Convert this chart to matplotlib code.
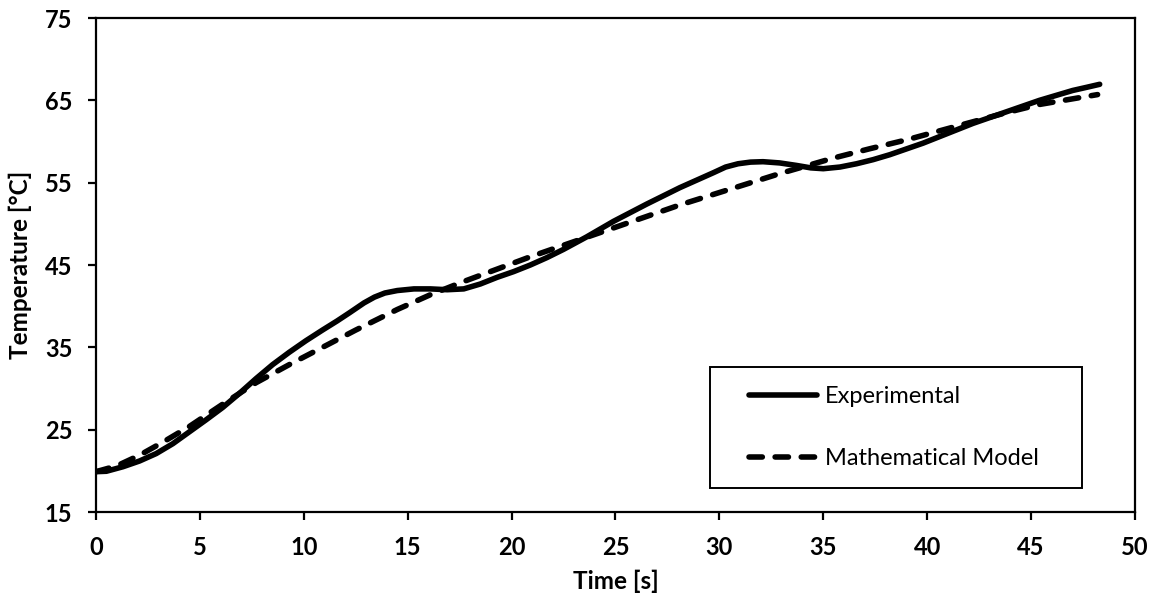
import numpy as np
import matplotlib
matplotlib.use('Agg')
import matplotlib.pyplot as plt
from matplotlib.patches import Rectangle

plt.rcParams['font.family'] = ['Lato', 'DejaVu Sans']

# Experimental curve
t_exp = [0, 0.5, 1.3, 2.1, 2.9, 3.7, 4.5, 5.3, 6.1, 6.9, 7.7, 8.5, 9.3, 10.1, 10.9,
         11.6, 12.2, 12.9, 13.4, 13.9, 14.5, 15.3, 16.1, 16.9, 17.7, 18.5, 19.3,
         20.1, 20.9, 21.7, 22.5, 23.6, 24.9, 26.5, 28.1, 29.7, 30.3, 30.9, 31.5,
         32.1, 32.9, 33.7, 34.4, 35.0, 35.8, 36.6, 37.4, 38.2, 39.0, 39.8, 40.6,
         41.4, 42.2, 43.0, 43.8, 44.6, 45.4, 46.2, 47.0, 47.7, 48.3]
T_exp = [19.9, 19.95, 20.5, 21.2, 22.1, 23.3, 24.75, 26.2, 27.7, 29.4, 31.2, 32.9,
         34.4, 35.8, 37.1, 38.2, 39.2, 40.4, 41.1, 41.6, 41.9, 42.1, 42.1, 42.0,
         42.1, 42.7, 43.5, 44.2, 45.0, 45.9, 46.9, 48.4, 50.3, 52.4, 54.4, 56.2,
         56.9, 57.3, 57.5, 57.55, 57.4, 57.1, 56.8, 56.7, 56.9, 57.3, 57.8, 58.4,
         59.1, 59.8, 60.6, 61.4, 62.2, 62.9, 63.6, 64.3, 65.0, 65.6, 66.2, 66.6, 66.95]

# Mathematical model curve
t_mod = [0, 1.0, 2.1, 3.3, 4.5, 6.1, 7.7, 9.3, 10.9, 12.5, 14.5, 16.1, 17.7, 19.3,
         20.9, 22.5, 24.1, 25.7, 28.1, 30.5, 32.9, 35.5, 37.2, 39.0, 40.6, 42.2,
         43.8, 45.4, 46.8, 48.2]
T_mod = [19.9, 20.6, 21.9, 23.6, 25.4, 28.1, 30.7, 32.9, 35.0, 37.1, 39.6, 41.4,
         43.0, 44.5, 46.0, 47.4, 48.8, 50.2, 52.3, 54.2, 56.1, 58.0, 59.1, 60.2,
         61.3, 62.4, 63.5, 64.5, 65.1, 65.7]

x_ticks = np.arange(0, 51, 5)
y_ticks = np.arange(15, 76, 10)

fig = plt.figure(figsize=(11.59, 6.11), dpi=100)
ax = fig.add_axes([0.0828, 0.162, 0.8965, 0.8085])

ax.plot(t_exp, T_exp, color='black', lw=4, solid_capstyle='round',
        solid_joinstyle='round', label='Experimental')
ax.plot(t_mod, T_mod, color='black', lw=4, linestyle=(0, (2.4, 2.3)),
        dash_capstyle='round', label='Mathematical Model')

ax.set_xlim(0, 50)
ax.set_ylim(15, 75)
ax.set_xticks(x_ticks)
ax.set_yticks(y_ticks)

for sp in ax.spines.values():
    sp.set_linewidth(1.6)
ax.tick_params(axis='both', direction='out', length=6, width=1.6, labelsize=17, pad=11)
for lab in ax.get_xticklabels() + ax.get_yticklabels():
    lab.set_fontweight('bold')

ax.set_xlabel('Time [s]', fontsize=17.5, fontweight='bold', labelpad=8)
ax.set_ylabel('Temperature [°C]', fontsize=17.5, fontweight='bold', labelpad=9)

leg = ax.legend(loc='center left', bbox_to_anchor=(0.6285, 0.171), frameon=False,
                fontsize=17, handlelength=2.9, handletextpad=0.3, labelspacing=1.75,
                borderpad=0, borderaxespad=0)
ax.add_patch(Rectangle((0.591, 0.0486), 0.358, 0.245, transform=ax.transAxes,
                       fill=False, edgecolor='black', lw=1.4, zorder=5))

fig.savefig('out.png', dpi=100)
